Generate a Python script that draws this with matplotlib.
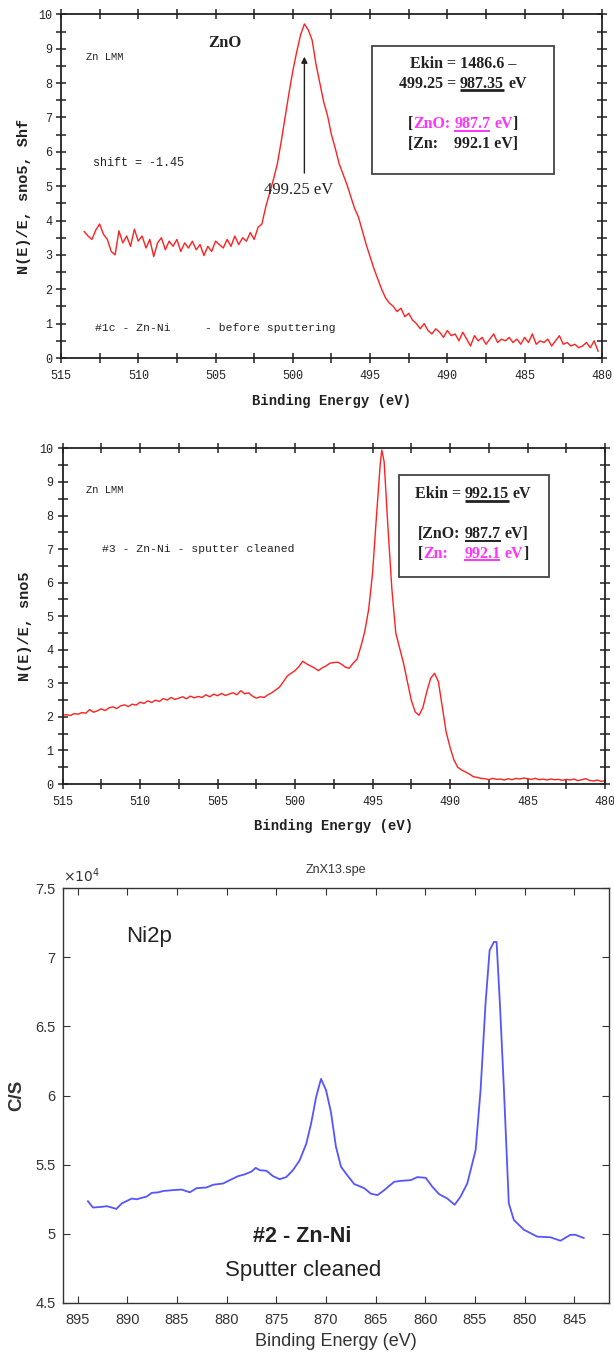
import matplotlib
matplotlib.use("Agg")
import matplotlib.pyplot as plt
from matplotlib.ticker import MultipleLocator, FuncFormatter
from matplotlib.patches import Rectangle
from matplotlib.font_manager import FontProperties, findfont, get_font

# --- Zn LMM, sample #1c before sputtering (ZnO) ---
be_zno = [513.50, 513.25, 513.00, 512.75, 512.50, 512.25, 512.00, 511.75, 511.50, 511.25,
          511.00, 510.75, 510.50, 510.25, 510.00, 509.75, 509.50, 509.25, 509.00, 508.75,
          508.50, 508.25, 508.00, 507.75, 507.50, 507.25, 507.00, 506.75, 506.50, 506.25,
          506.00, 505.75, 505.50, 505.25, 505.00, 504.75, 504.50, 504.25, 504.00, 503.75,
          503.50, 503.25, 503.00, 502.75, 502.50, 502.25, 502.00, 501.75, 501.50, 501.25,
          501.00, 500.75, 500.50, 500.25, 500.00, 499.75, 499.50, 499.25, 499.00, 498.75,
          498.50, 498.25, 498.00, 497.75, 497.50, 497.25, 497.00, 496.75, 496.50, 496.25,
          496.00, 495.75, 495.50, 495.25, 495.00, 494.75, 494.50, 494.25, 494.00, 493.75,
          493.50, 493.25, 493.00, 492.75, 492.50, 492.25, 492.00, 491.75, 491.50, 491.25,
          491.00, 490.75, 490.50, 490.25, 490.00, 489.75, 489.50, 489.25, 489.00, 488.75,
          488.50, 488.25, 488.00, 487.75, 487.50, 487.25, 487.00, 486.75, 486.50, 486.25,
          486.00, 485.75, 485.50, 485.25, 485.00, 484.75, 484.50, 484.25, 484.00, 483.75,
          483.50, 483.25, 483.00, 482.75, 482.50, 482.25, 482.00, 481.75, 481.50, 481.25,
          481.00, 480.75, 480.50, 480.25]
n_zno = [3.68, 3.55, 3.45, 3.72, 3.90, 3.60, 3.45, 3.10, 3.00, 3.70,
         3.35, 3.55, 3.25, 3.75, 3.40, 3.55, 3.20, 3.45, 2.95, 3.35,
         3.50, 3.15, 3.40, 3.25, 3.45, 3.10, 3.35, 3.20, 3.40, 3.15,
         3.30, 2.98, 3.25, 3.10, 3.40, 3.30, 3.20, 3.45, 3.25, 3.55,
         3.30, 3.50, 3.40, 3.65, 3.45, 3.80, 3.90, 4.40, 4.80, 5.20,
         5.65, 6.30, 7.00, 7.70, 8.35, 8.90, 9.40, 9.72, 9.55, 9.25,
         8.55, 8.00, 7.45, 7.05, 6.50, 6.10, 5.65, 5.35, 5.05, 4.70,
         4.35, 4.10, 3.70, 3.30, 2.95, 2.60, 2.30, 2.00, 1.75, 1.60,
         1.50, 1.35, 1.45, 1.20, 1.30, 1.10, 1.00, 0.85, 1.00, 0.80,
         0.70, 0.85, 0.75, 0.60, 0.80, 0.65, 0.70, 0.50, 0.75, 0.55,
         0.35, 0.65, 0.50, 0.60, 0.40, 0.55, 0.70, 0.45, 0.55, 0.50,
         0.60, 0.45, 0.55, 0.40, 0.60, 0.45, 0.70, 0.40, 0.50, 0.45,
         0.55, 0.35, 0.50, 0.65, 0.40, 0.45, 0.35, 0.40, 0.30, 0.35,
         0.45, 0.30, 0.50, 0.20]

# --- Zn LMM, sample #3 sputter cleaned ---
be_zn = [515.00, 514.75, 514.50, 514.25, 514.00, 513.75, 513.50, 513.25, 513.00, 512.75,
         512.50, 512.25, 512.00, 511.75, 511.50, 511.25, 511.00, 510.75, 510.50, 510.25,
         510.00, 509.75, 509.50, 509.25, 509.00, 508.75, 508.50, 508.25, 508.00, 507.75,
         507.50, 507.25, 507.00, 506.75, 506.50, 506.25, 506.00, 505.75, 505.50, 505.25,
         505.00, 504.75, 504.50, 504.25, 504.00, 503.75, 503.50, 503.25, 503.00, 502.75,
         502.50, 502.25, 502.00, 501.75, 501.50, 501.25, 501.00, 500.75, 500.50, 500.25,
         500.00, 499.75, 499.50, 499.25, 499.00, 498.75, 498.50, 498.25, 498.00, 497.75,
         497.50, 497.25, 497.00, 496.75, 496.50, 496.25, 496.00, 495.75, 495.50, 495.25,
         495.00, 494.75, 494.50, 494.40, 494.25, 494.00, 493.75, 493.50, 493.25, 493.00,
         492.75, 492.50, 492.25, 492.00, 491.75, 491.50, 491.25, 491.00, 490.75, 490.50,
         490.25, 490.00, 489.75, 489.50, 489.25, 489.00, 488.75, 488.50, 488.25, 488.00,
         487.75, 487.50, 487.25, 487.00, 486.75, 486.50, 486.25, 486.00, 485.75, 485.50,
         485.25, 485.00, 484.75, 484.50, 484.25, 484.00, 483.75, 483.50, 483.25, 483.00,
         482.75, 482.50, 482.25, 482.00, 481.75, 481.50, 481.25, 481.00, 480.75, 480.50,
         480.25, 480.00]
n_zn = [2.05, 2.07, 2.04, 2.10, 2.08, 2.13, 2.11, 2.22, 2.14, 2.18,
        2.24, 2.19, 2.27, 2.30, 2.25, 2.33, 2.36, 2.31, 2.38, 2.35,
        2.44, 2.40, 2.48, 2.43, 2.50, 2.46, 2.55, 2.50, 2.58, 2.52,
        2.56, 2.60, 2.54, 2.62, 2.57, 2.61, 2.58, 2.66, 2.60, 2.68,
        2.63, 2.70, 2.64, 2.68, 2.72, 2.66, 2.78, 2.69, 2.72, 2.62,
        2.56, 2.60, 2.58, 2.66, 2.72, 2.80, 2.89, 3.05, 3.22, 3.30,
        3.38, 3.50, 3.66, 3.58, 3.52, 3.46, 3.38, 3.46, 3.52, 3.60,
        3.62, 3.63, 3.57, 3.48, 3.45, 3.60, 3.72, 4.10, 4.55, 5.20,
        6.27, 7.95, 9.55, 9.95, 9.60, 7.60, 5.80, 4.50, 4.05, 3.60,
        3.05, 2.50, 2.15, 2.05, 2.28, 2.75, 3.15, 3.30, 3.05, 2.30,
        1.55, 1.10, 0.72, 0.50, 0.42, 0.36, 0.30, 0.22, 0.20, 0.17,
        0.16, 0.13, 0.17, 0.14, 0.15, 0.12, 0.16, 0.13, 0.17, 0.15,
        0.18, 0.16, 0.14, 0.17, 0.13, 0.15, 0.12, 0.15, 0.13, 0.14,
        0.11, 0.14, 0.12, 0.15, 0.10, 0.13, 0.16, 0.11, 0.09, 0.12,
        0.08, 0.10]

# --- Ni 2p, sample #2 sputter cleaned (counts per second) ---
be_ni = [893.96, 893.46, 892.56, 892.06, 891.56, 891.10, 890.55, 889.55, 889.05, 888.04,
         887.54, 886.87, 886.37, 885.37, 884.53, 883.70, 883.03, 882.03, 881.35, 880.35,
         879.68, 878.85, 878.18, 877.50, 877.07, 876.67, 876.00, 875.33, 874.67, 874.00,
         873.33, 872.66, 871.99, 871.49, 870.99, 870.50, 870.00, 869.50, 869.00, 868.49,
         867.82, 867.16, 866.15, 865.48, 864.81, 864.14, 863.14, 862.47, 861.47, 860.80,
         859.96, 859.29, 858.62, 857.78, 857.05, 856.45, 855.78, 854.94, 854.44, 853.94,
         853.53, 853.10, 852.83, 852.50, 852.10, 851.60, 851.09, 850.09, 848.75, 847.41,
         846.40, 845.40, 844.90, 844.06]
cps_ni = [52360, 51900, 51950, 52000, 51900, 51800, 52200, 52550, 52500, 52700,
          52960, 53000, 53100, 53160, 53200, 53000, 53300, 53350, 53550, 53640,
          53880, 54170, 54300, 54500, 54770, 54600, 54560, 54170, 53950, 54100,
          54600, 55300, 56500, 58000, 59900, 61200, 60400, 58800, 56300, 54850,
          54200, 53600, 53300, 52900, 52800, 53160, 53760, 53830, 53880, 54100,
          54050, 53400, 52870, 52550, 52100, 52700, 53640, 56050, 60400, 66670,
          70500, 71100, 71100, 66700, 60600, 52200, 51000, 50300, 49800, 49750,
          49500, 49930, 49930, 49700]

MONO = "Liberation Mono"
SERIF = "Liberation Serif"
SANS = "Liberation Sans"
INK = "#222222"
MAGENTA = "#ff33ff"

fig = plt.figure(figsize=(6.14, 13.53), dpi=100)
ax1 = fig.add_axes([0.0993, 0.7354, 0.881, 0.254])
ax2 = fig.add_axes([0.1018, 0.4205, 0.8836, 0.2481])
ax3 = fig.add_axes([0.1021, 0.03696, 0.890, 0.3067])


def auger_axes(ax, ylabel):
    ax.set_xlim(515, 480)
    ax.set_ylim(0, 10)
    ax.xaxis.set_major_locator(MultipleLocator(5))
    ax.xaxis.set_minor_locator(MultipleLocator(2.5))
    ax.yaxis.set_major_locator(MultipleLocator(1))
    ax.yaxis.set_minor_locator(MultipleLocator(0.5))
    ax.tick_params(which="both", direction="inout", length=7, width=1.1, color=INK,
                   top=True, right=True)
    ax.tick_params(which="major", labelsize=8.5, labelcolor=INK)
    ax.tick_params(axis="x", pad=5)
    ax.tick_params(axis="y", pad=3)
    for lab in ax.get_xticklabels() + ax.get_yticklabels():
        lab.set_fontfamily(MONO)
    for sp in ax.spines.values():
        sp.set_linewidth(1.3)
        sp.set_color(INK)
    ax.set_xlabel("Binding Energy (eV)", fontfamily=MONO, fontweight="bold",
                  fontsize=10, color=INK)
    ax.xaxis.set_label_coords(0.5, -0.105)
    ax.set_ylabel(ylabel, fontfamily=MONO, fontweight="bold", fontsize=11, color=INK)
    ax.yaxis.set_label_coords(-0.056, 0.47)


def advance(s, size):
    # pen advance of a string in pixels, spaces included
    font = get_font(findfont(FontProperties(family=SERIF, weight="bold")))
    font.set_size(size, fig.dpi)
    return sum(font.load_char(ord(ch)).linearHoriAdvance for ch in s) / 65536


def rich_line(ax, x, y, parts, size=11.5, ul_lw=1.4):
    # parts: (text, colour, underlined); the line is centred on (x, y)
    full = "".join(p[0] for p in parts)
    x0, y0 = ax.transData.transform((x, y))
    left = x0 - advance(full, size) / 2
    inv = ax.transData.inverted()
    prefix = ""
    for s, c, ul in parts:
        body = s.strip()
        lead = s[:len(s) - len(s.lstrip())]
        start = left + advance(prefix + lead, size)
        if body:
            px, py = inv.transform((start, y0))
            ax.text(px, py, body, fontsize=size, fontfamily=SERIF, fontweight="bold",
                    color=c, ha="left", va="baseline")
            if ul:
                w = advance(body, size)
                xa, ya = inv.transform((start, y0 - 2.5))
                xb, _ = inv.transform((start + w, y0 - 2.5))
                ax.plot([xa, xb], [ya, ya], color=c, lw=ul_lw, solid_capstyle="butt")
        prefix += s


# top panel: ZnO before sputtering
ax1.plot(be_zno, n_zno, color="#ff2020", lw=1.0)
auger_axes(ax1, "N(E)/E, sno5, Shf")
ax1.text(513.4, 8.75, "Zn LMM", fontfamily=MONO, fontsize=7.5, color=INK, va="center")
ax1.text(504.4, 9.17, "ZnO", fontfamily=SERIF, fontweight="bold", fontsize=12,
         color=INK, ha="center", va="center")
ax1.text(512.9, 5.68, "shift = -1.45", fontfamily=MONO, fontsize=8.5, color=INK,
         va="center")
ax1.text(512.8, 0.88, "#1c - Zn-Ni     - before sputtering", fontfamily=MONO,
         fontsize=8.2, color=INK, va="center")
ax1.annotate("", xy=(499.25, 8.85), xytext=(499.25, 5.3),
             arrowprops=dict(arrowstyle="-|>", color=INK, lw=1.0, mutation_scale=9))
ax1.text(499.6, 4.88, "499.25 eV", fontfamily=SERIF, fontsize=12, color=INK,
         ha="center", va="center")
ax1.add_patch(Rectangle((483.1, 5.34), 11.77, 3.73, fill=False, lw=1.3, ec="#444444"))

# middle panel: sputter cleaned Zn
ax2.plot(be_zn, n_zn, color="#ff2020", lw=1.0)
auger_axes(ax2, "N(E)/E, sno5")
ax2.text(513.5, 8.76, "Zn LMM", fontfamily=MONO, fontsize=7.5, color=INK, va="center")
ax2.text(512.45, 7.0, "#3 - Zn-Ni - sputter cleaned", fontfamily=MONO, fontsize=8.2,
         color=INK, va="center")
ax2.add_patch(Rectangle((483.6, 6.17), 9.7, 3.03, fill=False, lw=1.3, ec="#444444"))

# bottom panel: Ni 2p
ax3.plot(be_ni, cps_ni, color="#5555ff", lw=1.3)
ax3.set_xlim(896.5, 841.5)
ax3.set_ylim(45000, 75000)
ax3.xaxis.set_major_locator(MultipleLocator(5))
ax3.yaxis.set_major_locator(MultipleLocator(5000))
ax3.yaxis.set_major_formatter(FuncFormatter(lambda v, _: f"{v / 1e4:g}"))
ax3.tick_params(direction="in", length=5, width=0.8, color="#333333", top=True,
                right=True, labelsize=10.5, labelcolor="#333333")
ax3.tick_params(axis="x", pad=7)
ax3.tick_params(axis="y", pad=5)
for lab in ax3.get_xticklabels() + ax3.get_yticklabels():
    lab.set_fontfamily(SANS)
for sp in ax3.spines.values():
    sp.set_linewidth(1.0)
    sp.set_color("#333333")
ax3.set_xlabel("Binding Energy (eV)", fontfamily=SANS, fontsize=13, color="#333333")
ax3.xaxis.set_label_coords(0.5, -0.072)
ax3.set_ylabel("C/S", fontfamily=SANS, fontweight="bold", fontsize=13.5, color="#333333")
ax3.yaxis.set_label_coords(-0.068, 0.5)
ax3.text(0.5, 1.043, "ZnX13.spe", transform=ax3.transAxes, fontfamily=SANS,
         fontsize=9, color="#333333", ha="center", va="center")
ax3.text(0.0, 1.008, r"$\times10^4$", transform=ax3.transAxes, fontfamily=SANS,
         fontsize=10, color="#333333", ha="left", va="bottom")
ax3.text(890.1, 71500, "Ni2p", fontfamily=SANS, fontsize=16, color="#222222",
         ha="left", va="center")
ax3.text(872.4, 49780, "#2 - Zn-Ni", fontfamily=SANS, fontweight="bold", fontsize=15.5,
         color="#222222", ha="center", va="center")
ax3.text(872.3, 47360, "Sputter cleaned", fontfamily=SANS, fontsize=16,
         color="#222222", ha="center", va="center")

# text boxes with underlined values (needs final layout for measuring)
fig.canvas.draw()
rich_line(ax1, 489.0, 8.45, [("Ekin = 1486.6 \u2013", INK, False)])
rich_line(ax1, 489.0, 7.86, [("499.25 = ", INK, False), ("987.35", INK, True),
                            (" eV", INK, False)], ul_lw=2.0)
rich_line(ax1, 489.0, 6.69, [("[", INK, False), ("ZnO: ", MAGENTA, False),
                            ("987.7", MAGENTA, True), (" eV", MAGENTA, False),
                            ("]", INK, False)])
rich_line(ax1, 489.0, 6.11, [("[Zn:    992.1 eV]", INK, False)])

rich_line(ax2, 488.5, 8.52, [("Ekin = ", INK, False), ("992.15", INK, True),
                            (" eV", INK, False)], ul_lw=2.0)
rich_line(ax2, 488.5, 7.33, [("[ZnO: ", INK, False), ("987.7", INK, True),
                            (" eV]", INK, False)])
rich_line(ax2, 488.5, 6.74, [("[", INK, False), ("Zn:    ", MAGENTA, False),
                            ("992.1", MAGENTA, True), (" eV", MAGENTA, False),
                            ("]", INK, False)])

fig.savefig("out.png", dpi=100)
